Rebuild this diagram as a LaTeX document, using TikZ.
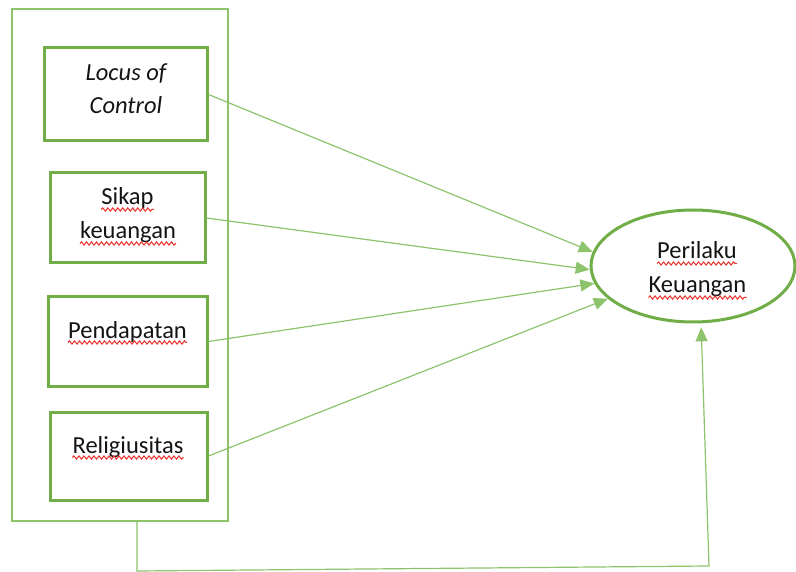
\documentclass[tikz,border=0pt]{standalone}
\usepackage{fontspec}
\setmainfont{Carlito}
\usetikzlibrary{arrows.meta,shapes.geometric,decorations.pathmorphing}
\definecolor{boxgreen}{HTML}{70AD47}
\definecolor{linegreen}{HTML}{8CC36B}
\definecolor{spellred}{HTML}{E8302A}
\definecolor{ink}{HTML}{141414}
\begin{document}
\begin{tikzpicture}[x=1pt,y=-1pt,
  groupframe/.style={draw=linegreen,line width=1.3pt,inner sep=0pt,minimum width=216pt,minimum height=512pt},
  varbox/.style={draw=boxgreen,line width=3pt,inner sep=0pt},
  outcome/.style={ellipse,draw=boxgreen,line width=3pt,inner sep=0pt,minimum width=204pt,minimum height=112pt},
  word/.style={anchor=base,inner sep=0pt,font=\fontsize{24.5}{29}\selectfont,text=ink},
  link/.style={draw=linegreen,line width=1.2pt,-{Triangle[length=14pt,width=12pt]}},
  spell/.style={draw=spellred,line width=1pt,decorate,decoration={snake,amplitude=1.6pt,segment length=5pt}}]

\useasboundingbox (0,0) rectangle (796,572);

% group frame around the independent variables
\node[groupframe] (frame) at (120,265) {};

% independent variables
\node[varbox,minimum width=163pt,minimum height=93pt] (b1) at (125.5,94.5) {};
\node[varbox,minimum width=155pt,minimum height=90pt] (b2) at (127.5,218) {};
\node[varbox,minimum width=159pt,minimum height=89pt] (b3) at (127.5,341.5) {};
\node[varbox,minimum width=157pt,minimum height=88pt] (b4) at (128.5,456) {};

% dependent variable
\node[outcome] (P) at (693,266) {};

% labels
\node[word,font=\fontsize{24.5}{29}\selectfont\itshape] (t1a) at (126,81) {Locus of};
\node[word,font=\fontsize{24.5}{29}\selectfont\itshape] (t1b) at (126,114) {Control};
\node[word] (t2a) at (127.5,205) {Sikap};
\node[word] (t2b) at (128,239) {keuangan};
\node[word] (t3) at (127.5,338) {Pendapatan};
\node[word] (t4) at (128,453) {Religiusitas};
\node[word] (tpa) at (697,259) {Perilaku};
\node[word] (tpb) at (697.5,293) {Keuangan};

% spelling marks under the words
\foreach \w in {t2a,t2b,t3,t4,tpa,tpb}
  \draw[spell] ([yshift=-4.5pt]\w.base west) -- ([yshift=-4.5pt]\w.base east);

% influences
\draw[link] (b1.east) -- (P.172);
\draw[link] (b2.east) -- (P.182);
\draw[link] (b3.east) -- (P.190);
\draw[link] (b4.east) -- (P.201);

% joint influence of the whole group
\coordinate (k1) at (137,571);
\coordinate (k2) at (709,566);
\draw[link,shorten >=4pt] (frame.south -| k1) -- (k1) -- (k2) -- (P.278);
\end{tikzpicture}
\end{document}
